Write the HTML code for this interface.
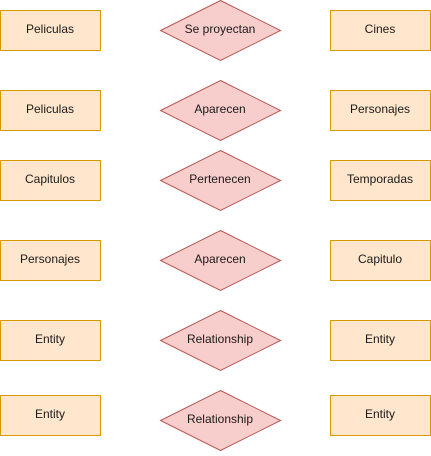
<!DOCTYPE html>
<html><head><style>body{margin:0;background:#fff}</style></head><body>
<svg width="431" height="451" xmlns="http://www.w3.org/2000/svg" font-family="Liberation Sans, Helvetica, sans-serif" font-size="12" text-anchor="middle" fill="#1a1a1a">
<g stroke="#d79b00" fill="#ffe6cc">
<rect x="0.5" y="10.5" width="100" height="40"/><rect x="330.5" y="10.5" width="100" height="40"/>
<rect x="0.5" y="90.5" width="100" height="40"/><rect x="330.5" y="90.5" width="100" height="40"/>
<rect x="0.5" y="160.5" width="100" height="40"/><rect x="330.5" y="160.5" width="100" height="40"/>
<rect x="0.5" y="240.5" width="100" height="40"/><rect x="330.5" y="240.5" width="100" height="40"/>
<rect x="0.5" y="320.5" width="100" height="40"/><rect x="330.5" y="320.5" width="100" height="40"/>
<rect x="0.5" y="395.5" width="100" height="40"/><rect x="330.5" y="395.5" width="100" height="40"/>
</g>
<g stroke="#b85450" fill="#f8cecc">
<polygon points="220.5,0.5 280.5,30.5 220.5,60.5 160.5,30.5"/>
<polygon points="220.5,80.5 280.5,110.5 220.5,140.5 160.5,110.5"/>
<polygon points="220.5,150.5 280.5,180.5 220.5,210.5 160.5,180.5"/>
<polygon points="220.5,230.5 280.5,260.5 220.5,290.5 160.5,260.5"/>
<polygon points="220.5,310.5 280.5,340.5 220.5,370.5 160.5,340.5"/>
<polygon points="220.5,390.5 280.5,420.5 220.5,450.5 160.5,420.5"/>
</g>
<g fill="#1a1a1a">
<text x="50" y="33">Peliculas</text><text x="220" y="33">Se proyectan</text><text x="380" y="33">Cines</text>
<text x="50" y="113">Peliculas</text><text x="220" y="113">Aparecen</text><text x="380" y="113">Personajes</text>
<text x="50" y="183">Capitulos</text><text x="220" y="183">Pertenecen</text><text x="380" y="183">Temporadas</text>
<text x="50" y="263">Personajes</text><text x="220" y="263">Aparecen</text><text x="380" y="263">Capitulo</text>
<text x="50" y="343">Entity</text><text x="220" y="343">Relationship</text><text x="380" y="343">Entity</text>
<text x="50" y="418">Entity</text><text x="220" y="423">Relationship</text><text x="380" y="418">Entity</text>
</g>
</svg>
</body></html>
